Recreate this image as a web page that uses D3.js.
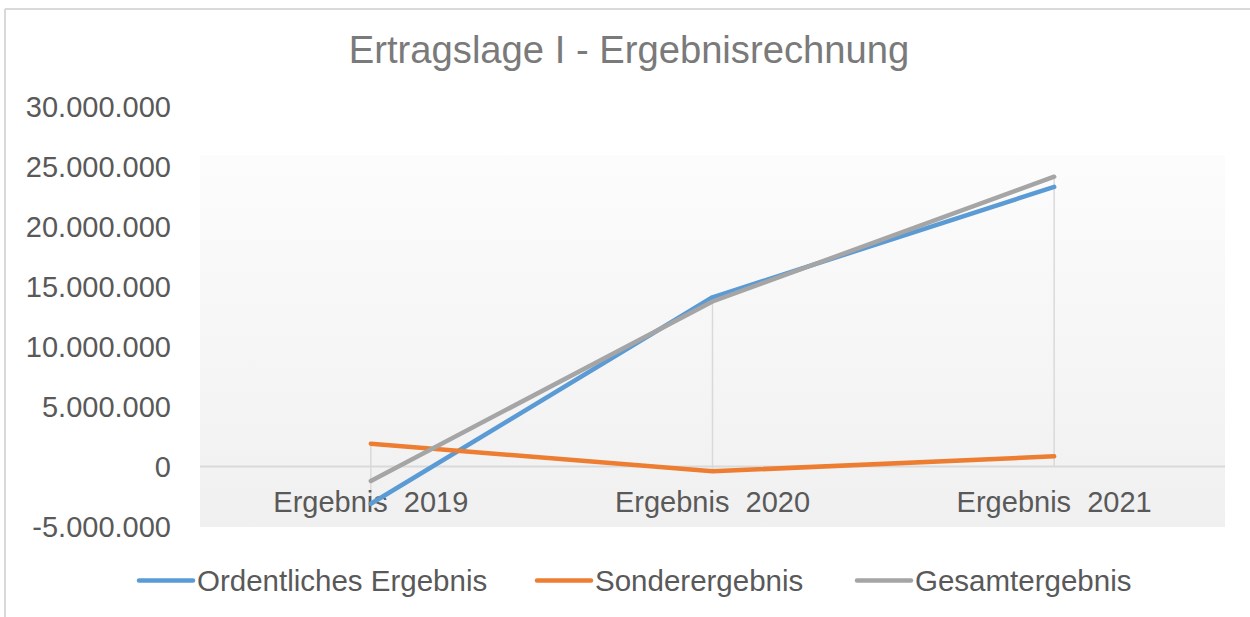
<!DOCTYPE html>
<html><head><meta charset="utf-8">
<script src="https://cdn.jsdelivr.net/npm/d3@7"></script>
<style>body{margin:0;background:#fff;}svg{display:block;font-family:"Liberation Sans",Arial,sans-serif;}</style>
</head><body>
<svg id="c" width="1250" height="617"></svg>
<script>
const categories = ["Ergebnis\u00a0 2019", "Ergebnis\u00a0 2020", "Ergebnis\u00a0 2021"];
const ordentlich = [-3100000, 14100000, 23300000];
const sonder = [1900000, -400000, 850000];
const gesamt = [-1200000, 13750000, 24150000];
const seriesNames = ["Ordentliches Ergebnis", "Sonderergebnis", "Gesamtergebnis"];
const seriesColors = ["#5b9bd5", "#ed7d31", "#a5a5a5"];
const yTicks = [-5000000, 0, 5000000, 10000000, 15000000, 20000000, 25000000, 30000000];
const title = "Ertragslage I - Ergebnisrechnung";

const series = [ordentlich, sonder, gesamt];
const svg = d3.select("#c");

// frame
svg.append("line").attr("x1",5).attr("x2",1250).attr("y1",9).attr("y2",9).attr("stroke","#d9d9d9").attr("stroke-width",2);
svg.append("line").attr("x1",5).attr("x2",5).attr("y1",9).attr("y2",617).attr("stroke","#d9d9d9").attr("stroke-width",2);

const plot = {left:200, right:1225, top:155, bottom:527};
const x = d3.scaleBand().domain(categories).range([plot.left, plot.right]);
const y = d3.scaleLinear().domain([-5000000, 30000000]).range([526.5, 106.5]);

const defs = svg.append("defs");
const grad = defs.append("linearGradient").attr("id","bg").attr("x1",0).attr("x2",0).attr("y1",0).attr("y2",1);
grad.append("stop").attr("offset","0%").attr("stop-color","#fcfcfc");
grad.append("stop").attr("offset","100%").attr("stop-color","#f0f0f0");
svg.append("rect").attr("x",plot.left).attr("y",plot.top).attr("width",plot.right-plot.left).attr("height",plot.bottom-plot.top).attr("fill","url(#bg)");

// title
svg.append("text").attr("x",629).attr("y",63).attr("text-anchor","middle").attr("font-size",38.2).attr("fill","#7a7a7a").text(title);

// y axis labels
const fmt = v => v === 0 ? "0" : (v<0?"-":"") + d3.format(",")(Math.abs(v)).replace(/,/g,".");
const yAxis = d3.axisLeft(y).tickValues(yTicks).tickFormat(fmt).tickSize(0).tickPadding(0);
const ya = svg.append("g").attr("transform","translate(171,0)").call(yAxis);
ya.select(".domain").remove();
ya.selectAll("text").attr("font-size",29).attr("fill","#595959").attr("font-family","Liberation Sans, Arial, sans-serif").attr("dy","0.36em");

// zero line
svg.append("line").attr("x1",plot.left).attr("x2",plot.right).attr("y1",y(0)).attr("y2",y(0)).attr("stroke","#d9d9d9").attr("stroke-width",2);

// drop lines
categories.forEach((c,i)=>{
  const vals = series.map(s=>s[i]);
  const hi = Math.max(0, d3.max(vals)), lo = Math.min(0, d3.min(vals));
  svg.append("line").attr("x1",x(c)+x.bandwidth()/2).attr("x2",x(c)+x.bandwidth()/2)
    .attr("y1",y(hi)).attr("y2",y(lo)).attr("stroke","#d9d9d9").attr("stroke-width",1.5);
});

// x axis labels
const xAxis = d3.axisBottom(x).tickSize(0).tickPadding(0);
const xa = svg.append("g").attr("transform","translate(0,511.5)").call(xAxis);
xa.select(".domain").remove();
xa.selectAll("text").attr("font-size",29).attr("fill","#595959").attr("font-family","Liberation Sans, Arial, sans-serif").attr("dy",0);

// lines
const line = d3.line().x((d,i)=>x(categories[i])+x.bandwidth()/2).y(d=>y(d));
series.forEach((s,k)=>{
  svg.append("path").attr("d",line(s)).attr("fill","none").attr("stroke",seriesColors[k]).attr("stroke-width",4.5).attr("stroke-linecap","round").attr("stroke-linejoin","round");
});

// legend
const legX = [139, 537, 857];
seriesNames.forEach((n,k)=>{
  svg.append("line").attr("x1",legX[k]).attr("x2",legX[k]+54).attr("y1",580.5).attr("y2",580.5).attr("stroke",seriesColors[k]).attr("stroke-width",4.5).attr("stroke-linecap","round");
  svg.append("text").attr("x",legX[k]+58).attr("y",590.5).attr("font-size",29.5).attr("fill","#595959").text(n);
});
</script>
</body></html>
